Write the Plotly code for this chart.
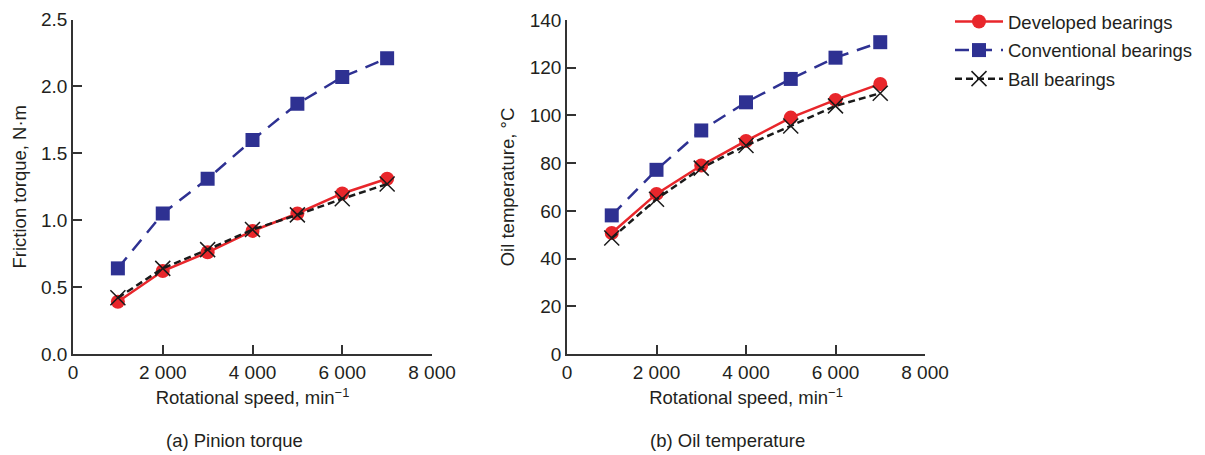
import plotly.graph_objects as go

speed = [1000, 2000, 3000, 4000, 5000, 6000, 7000]

torque_developed = [0.39, 0.62, 0.76, 0.92, 1.05, 1.20, 1.31]
torque_conventional = [0.64, 1.05, 1.31, 1.60, 1.87, 2.07, 2.21]
torque_ball = [0.42, 0.64, 0.78, 0.93, 1.04, 1.16, 1.27]

temp_developed = [50.7, 67.1, 79.0, 89.3, 99.1, 106.5, 113.2]
temp_conventional = [58.1, 77.2, 93.7, 105.5, 115.3, 124.2, 130.7]
temp_ball = [48.6, 64.9, 77.9, 87.4, 95.6, 104.0, 109.3]

x_tickvals = [0, 2000, 4000, 6000, 8000]
x_ticktext = ["0", "2 000", "4 000", "6 000", "8 000"]

RED = "#e8262b"
BLUE = "#2e3192"
BLACK = "#1a1a1a"
FONT = "Liberation Sans"
TXT = "#231f20"
FS = 19
FS2 = 18.5

fig = go.Figure()

series = [
    ("Developed bearings", torque_developed, temp_developed,
     dict(color=RED, width=2.5, dash="solid"),
     dict(symbol="circle", size=14, color=RED)),
    ("Conventional bearings", torque_conventional, temp_conventional,
     dict(color=BLUE, width=2.5, dash="14px,9px"),
     dict(symbol="square", size=14, color=BLUE)),
    ("Ball bearings", torque_ball, temp_ball,
     dict(color=BLACK, width=2.5, dash="7px,4px"),
     dict(symbol="x-thin-open", size=15, color=BLACK, line=dict(color=BLACK, width=1.5))),
]

for name, t, temp, line, marker in series:
    fig.add_trace(go.Scatter(x=speed, y=t, mode="lines+markers", name=name,
                             line=line, marker=marker, xaxis="x", yaxis="y",
                             legendgroup=name, showlegend=True))
for name, t, temp, line, marker in series:
    fig.add_trace(go.Scatter(x=speed, y=temp, mode="lines+markers", name=name,
                             line=line, marker=marker, xaxis="x2", yaxis="y2",
                             legendgroup=name, showlegend=False))

axis_common = dict(
    showline=True, linecolor="#333333", linewidth=1.5,
    ticks="inside", ticklen=9, tickwidth=1.5, tickcolor="#333333",
    showgrid=False, zeroline=False, mirror=False, automargin=False,
    tickfont=dict(family=FONT, size=FS, color=TXT),
)

# page body has an 8px margin: lay out in viewport pixels minus 8
OFF = 8
W, H = 1205 - OFF, 455 - OFF
def fx(px):
    return (px - OFF) / W
def fy(py):
    return 1 - (py - OFF) / H

title_font = dict(family=FONT, size=FS2, color=TXT)

fig.update_layout(
    width=W, height=H,
    margin=dict(l=0, r=0, t=0, b=0, autoexpand=False),
    paper_bgcolor="white", plot_bgcolor="white",
    font=dict(family=FONT, size=FS2, color=TXT),
    xaxis=dict(domain=[fx(73), fx(432)], range=[0, 8000], tickvals=x_tickvals,
               ticktext=x_ticktext, anchor="y",
               title=dict(text="Rotational speed, min<sup>\u22121</sup>",
                          font=title_font, standoff=10),
               **axis_common),
    yaxis=dict(domain=[fy(354), fy(19.5)], range=[0, 2.5], dtick=0.5, tickformat=".1f",
               anchor="x",
               title=dict(text="Friction torque, N\u00b7m", font=title_font, standoff=10),
               **axis_common),
    xaxis2=dict(domain=[fx(567), fx(925)], range=[0, 8000], tickvals=x_tickvals,
                ticktext=x_ticktext, anchor="y2",
                title=dict(text="Rotational speed, min<sup>\u22121</sup>",
                           font=title_font, standoff=10),
                **axis_common),
    yaxis2=dict(domain=[fy(354), fy(20)], range=[0, 140], dtick=20, anchor="x2",
                title=dict(text="Oil temperature, \u00b0C", font=title_font, standoff=10),
                **axis_common),
    legend=dict(x=fx(950), y=fy(3), xanchor="left", yanchor="top",
                font=dict(family=FONT, size=FS2, color=TXT),
                bgcolor="rgba(0,0,0,0)", tracegroupgap=1.5, itemwidth=48),
    annotations=[
        dict(text="(a) Pinion torque", x=fx(234), y=fy(440), xref="paper", yref="paper",
             showarrow=False, xanchor="center", yanchor="middle",
             font=dict(family=FONT, size=FS2, color=TXT)),
        dict(text="(b) Oil temperature", x=fx(727), y=fy(440), xref="paper", yref="paper",
             showarrow=False, xanchor="center", yanchor="middle",
             font=dict(family=FONT, size=FS2, color=TXT)),
    ],
)

fig.write_html("out.html")
